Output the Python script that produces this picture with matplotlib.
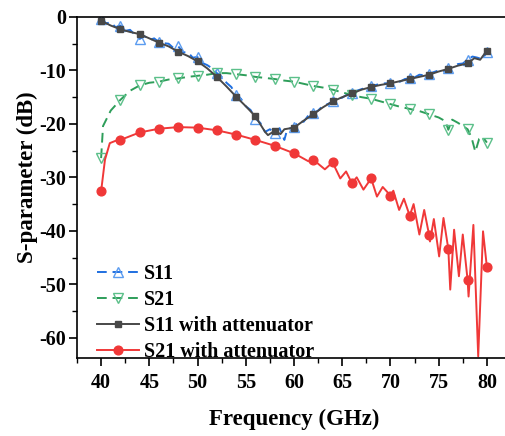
import matplotlib
matplotlib.use("Agg")
import matplotlib.pyplot as plt
from matplotlib.ticker import MultipleLocator

# S11 (blue dashed, hollow up-triangles)
s11_x = [40, 40.5, 41, 41.5, 42, 42.5, 43, 43.5, 44, 44.5, 45, 45.5, 46, 46.5, 47, 47.5,
         48, 48.5, 49, 49.5, 50, 50.5, 51, 51.5, 52, 52.5, 53, 53.5, 54, 54.5, 55, 55.5,
         56, 56.5, 57, 57.5, 58, 58.5, 59, 59.3, 60, 60.5, 61, 61.5, 62, 62.5, 63, 63.5,
         64, 64.5, 65, 65.5, 66, 66.5, 67, 67.5, 68, 68.5, 69, 69.5, 70, 70.5, 71, 71.5,
         72, 72.5, 73, 73.5, 74, 74.5, 75, 75.5, 76, 76.5, 77, 77.5, 78, 78.5, 79, 79.5, 80]
s11_y = [-0.3, -1.2, -1.0, -1.9, -1.6, -2.6, -2.4, -3.3, -4.1, -3.6, -4.3, -4.0, -4.7, -4.9, -5.0, -5.8,
         -5.5, -6.6, -6.6, -7.6, -7.5, -8.6, -9.0, -9.6, -10.5, -11.2, -12.3, -13.1, -14.6, -15.3, -16.7, -17.4,
         -19.0, -19.8, -21.5, -21.0, -21.7, -20.8, -23.0, -21.0, -20.6, -19.5, -19.6, -18.4, -18.0, -17.5, -16.6, -16.3,
         -15.8, -15.2, -15.1, -14.5, -14.3, -13.8, -13.5, -13.2, -12.9, -12.7, -12.5, -12.4, -12.4, -12.0, -12.1, -11.6,
         -11.5, -11.3, -10.8, -10.9, -10.7, -10.3, -10.0, -10.1, -9.6, -9.3, -8.8, -8.7, -8.0, -7.4, -7.6, -7.9, -6.6]

# S21 (green dashed, hollow down-triangles)
s21_x = [40, 40.2, 41, 42, 43, 44, 45, 46, 47, 48, 49, 50, 51, 52, 53, 54, 55, 56, 57, 58, 59, 60,
         61, 62, 63, 64, 65, 66, 67, 68, 69, 70, 71, 72, 73, 74, 75, 75.7, 76, 76.4, 77, 77.6, 78,
         78.4, 78.8, 79.2, 79.6, 80]
s21_y = [-26.4, -20.4, -17.5, -15.5, -13.8, -12.8, -12.3, -12.1, -11.7, -11.5, -11.2, -11.0, -10.8, -10.5, -10.5,
         -10.7, -10.9, -11.2, -11.4, -11.6, -11.9, -12.1, -12.5, -12.9, -13.2, -13.6, -14.1, -14.6, -15.0, -15.3,
         -15.8, -16.3, -16.8, -17.2, -17.6, -18.2, -18.8, -19.5, -21.1, -19.2, -19.8, -20.5, -21.0, -22.5, -25.2,
         -22.8, -22.5, -23.5]

# S11 with attenuator (dark grey, squares)
s11a_x = [40, 41, 42, 43, 44, 45, 46, 47, 48, 49, 50, 51, 52, 53, 54, 55, 56, 57, 57.3, 58, 58.6, 59, 60,
          61, 62, 63, 64, 65, 66, 67, 68, 69, 70, 71, 72, 73, 74, 75, 76, 77, 78, 78.7, 79.3, 80]
s11a_y = [-0.7, -1.6, -2.3, -2.8, -3.2, -4.0, -4.8, -5.5, -6.5, -7.3, -8.3, -9.6, -11.2, -13.0, -14.9, -16.7,
          -18.6, -21.5, -22.1, -21.3, -21.9, -21.0, -20.7, -19.4, -18.2, -16.9, -15.8, -15.0, -14.3, -13.6, -13.1,
          -12.7, -12.4, -12.0, -11.6, -11.2, -10.8, -10.2, -9.7, -9.1, -8.7, -7.7, -8.0, -6.3]

# S21 with attenuator (red, circles)
s21a_x = [40, 40.4, 40.9, 41.45, 42, 44, 46, 48, 50, 52, 54, 56, 58, 60, 61.5, 62, 63.2, 64, 64.8, 65.4,
          66, 66.5, 67.2, 68, 68.6, 69.2, 70, 70.3, 70.9, 71.4, 72, 72.4, 73, 73.5, 74, 74.1, 74.5, 75.05,
          75.5, 76, 76.2, 76.6, 77.1, 77.5, 78, 78.1, 78.6, 79.1, 79.6, 80]
s21a_y = [-32.6, -26.7, -23.6, -23.2, -23.0, -21.6, -20.9, -20.6, -20.7, -21.2, -22.0, -23.0, -24.1, -25.5,
          -27.0, -26.7, -28.5, -27.2, -30.2, -28.9, -31.1, -30.0, -32.3, -30.2, -33.6, -31.8, -33.4, -32.5,
          -36.1, -34.0, -37.2, -35.0, -40.7, -36.1, -40.7, -42.0, -37.8, -44.8, -37.6, -43.4, -51.0, -39.8,
          -48.5, -40.7, -49.2, -52.3, -38.9, -63.5, -40.1, -46.8]

labels = ["S11", "S21", "S11 with attenuator", "S21 with attenuator"]


def every2(xs):
    return [i for i, x in enumerate(xs) if float(x).is_integer() and int(x) % 2 == 0]


def main():
    plt.rcParams['font.family'] = ['Liberation Serif', 'DejaVu Serif']
    plt.rcParams['font.weight'] = 'bold'
    plt.rcParams['axes.unicode_minus'] = False

    fig = plt.figure(figsize=(5.05, 4.36), dpi=100)
    ax = fig.add_axes([77 / 505, 78 / 436, 434 / 505, 341 / 436])

    ax.plot(s11_x, s11_y, color='#1f6fe0', lw=1.4, ls=(0, (5, 3)),
            marker='^', markevery=every2(s11_x), ms=7, mfc='none', mec='#5b9cf0', mew=1.0,
            label=labels[0])
    ax.plot(s21_x, s21_y, color='#2e9e5a', lw=1.4, ls=(0, (5, 3)),
            marker='v', markevery=every2(s21_x), ms=7, mfc='none', mec='#5cc08a', mew=1.0,
            label=labels[1])
    ax.plot(s11a_x, s11a_y, color='#484848', lw=1.4,
            marker='s', markevery=every2(s11a_x), ms=4.5, mfc='#484848', mec='#484848',
            label=labels[2])
    ax.plot(s21a_x, s21a_y, color='#f03838', lw=1.4,
            marker='o', markevery=every2(s21a_x), ms=6.3, mfc='#f03838', mec='#f03838',
            label=labels[3])

    ax.set_xlim(37.5, 82.5)
    ax.set_ylim(-63.8, 0)
    ax.xaxis.set_major_locator(MultipleLocator(5))
    ax.xaxis.set_minor_locator(MultipleLocator(2.5))
    ax.yaxis.set_major_locator(MultipleLocator(10))
    ax.yaxis.set_minor_locator(MultipleLocator(5))
    ax.tick_params(which='major', direction='out', length=6, width=1.2, labelsize=14.5)
    ax.tick_params(which='minor', direction='out', length=3.5, width=1.0)
    ax.tick_params(axis='x', which='major', pad=5)
    ax.tick_params(axis='y', which='major', pad=2)
    ax.tick_params(top=False, right=False, which='both')
    for s in ax.spines.values():
        s.set_linewidth(1.2)

    ax.set_xlabel('Frequency (GHz)', fontsize=16.5, fontweight='bold', labelpad=11)
    ax.set_ylabel('S-parameter (dB)', fontsize=16.5, fontweight='bold')
    ax.yaxis.set_label_coords(-0.09, 0.53)

    ax.legend(loc='lower left', bbox_to_anchor=(0.0135, -0.053), frameon=False, fontsize=14.5,
              handlelength=2.1, handletextpad=0.25, labelspacing=0.3, borderaxespad=0.3)

    fig.savefig('out.png', dpi=100, facecolor='white')


if __name__ == '__main__':
    main()
